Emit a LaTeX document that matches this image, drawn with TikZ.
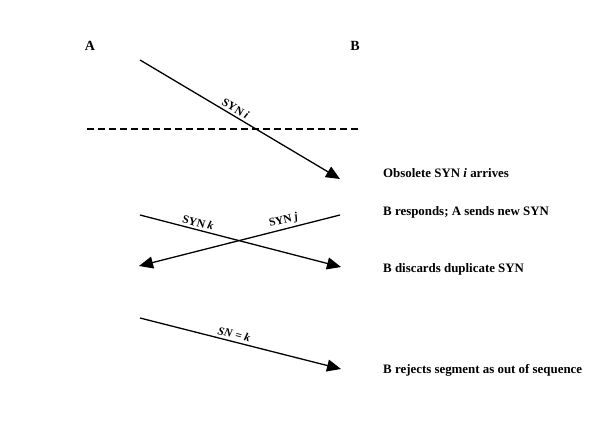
\documentclass[tikz,border=0pt]{standalone}
\usepackage{fontspec}
\setmainfont{Liberation Serif}
\usetikzlibrary{arrows.meta}
\tikzset{
  msg/.style={line width=1.3pt, -{Triangle[length=14pt,width=12pt]}},
  lbl/.style={font=\fontsize{11.5}{13}\selectfont\bfseries, sloped, above, inner sep=2.5pt},
  side/.style={font=\fontsize{12.9}{15}\selectfont\bfseries, anchor=base west, inner sep=0pt},
  host/.style={font=\fontsize{14}{16}\selectfont\bfseries, anchor=base, inner sep=0pt},
}
\begin{document}
\begin{tikzpicture}[x=1pt,y=-1pt]
\useasboundingbox (0,0) rectangle (615,436);
\node[host] (A) at (90,51) {A};
\node[host] (B) at (355,51) {B};
% obsolete SYN i
\coordinate (s1) at (140,60);
\coordinate (e1) at (340,179);
\draw[msg] (s1) -- node[lbl, pos=0.46] {SYN \textit{i}} (e1);
% dashed line
\coordinate (d1) at (87,129);
\coordinate (d2) at (361,129);
\draw[line width=1.2pt, dash pattern=on 7pt off 4pt] (d1) -- (d2);
% crossing
\coordinate (s2) at (140,215);
\coordinate (e2) at (341,267);
\coordinate (s3) at (340,215);
\coordinate (e3) at (139,266);
\draw[msg] (s2) -- node[lbl, pos=0.28] {SYN \textit{k}} (e2);
\draw[msg] (s3) -- node[lbl, pos=0.27] {SYN \textit{j}} (e3);
% SN = k
\coordinate (s4) at (140,318);
\coordinate (e4) at (341,369);
\draw[msg] (s4) -- node[lbl, pos=0.46] {\textit{SN} = \textit{k}} (e4);
% side texts
\node[side] (t1) at (383,177.5) {Obsolete SYN \textit{i} arrives};
\node[side] (t2) at (383,215.7) {B responds; A sends new SYN};
\node[side] (t3) at (383,272.7) {B discards duplicate SYN};
\node[side] (t4) at (383,373.3) {B rejects segment as out of sequence};
\end{tikzpicture}
\end{document}
